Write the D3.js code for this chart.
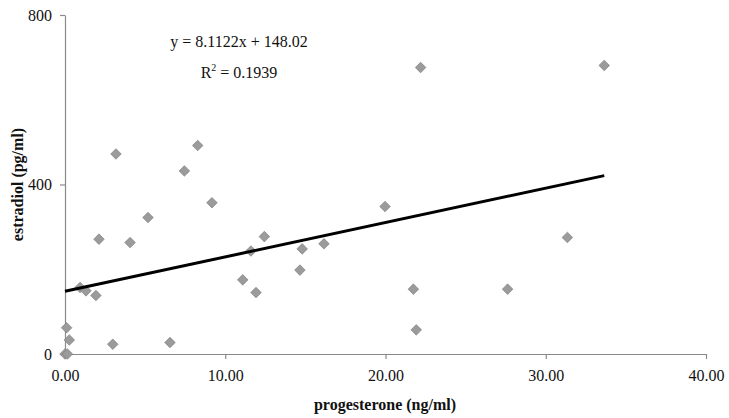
<!DOCTYPE html>
<html>
<head>
<meta charset="utf-8">
<script src="https://cdn.jsdelivr.net/npm/d3@7"></script>
<style>
  body { margin: 0; background: #fff; }
  text { font-family: "Liberation Serif", "Times New Roman", serif; fill: #111; }
</style>
</head>
<body>
<svg id="chart" width="729" height="418"></svg>
<script>
// Data
const progesterone = [0.00, 0.15, 0.10, 0.27, 2.98, 6.55, 0.94, 1.31, 1.93, 2.12, 4.06, 5.18, 9.17,
  3.18, 7.45, 8.28, 11.09, 11.60, 12.44, 14.80, 16.16, 14.66, 11.92, 19.97, 21.74, 21.92,
  22.19, 33.65, 31.35, 27.62];
const estradiol = [0, 0, 62, 33, 23, 27, 157, 149, 138, 271, 263, 322, 357,
  472, 432, 492, 175, 243, 277, 248, 260, 198, 145, 348, 153, 57,
  676, 681, 275, 153];
const xTicks = [0, 10, 20, 30, 40];
const yTicks = [0, 400, 800];
const slope = 8.1122, intercept = 148.02;
const equationLabel = "y = 8.1122x + 148.02";
const r2Value = "0.1939";
const xTitle = "progesterone (ng/ml)";
const yTitle = "estradiol (pg/ml)";

const svg = d3.select("#chart");
const x = d3.scaleLinear().domain([0, 40]).range([65, 706]);
const y = d3.scaleLinear().domain([0, 800]).range([354, 15]);
const axisColor = "#8a8a8a";

// X axis
const xAxis = svg.append("g").attr("transform", `translate(0,${y(0)})`)
  .call(d3.axisBottom(x).tickValues(xTicks).tickFormat(d3.format(".2f")).tickSize(5).tickSizeOuter(0));
xAxis.select(".domain").attr("stroke", axisColor).attr("stroke-width", 1.2);
xAxis.selectAll(".tick line").attr("stroke", axisColor).attr("stroke-width", 1.2);
xAxis.selectAll(".tick text").attr("font-size", 16).attr("dy", "1.2em")
  .style("font-family", "'Liberation Serif', serif").attr("fill", "#111");

// Y axis
const yAxis = svg.append("g").attr("transform", `translate(${x(0)},0)`)
  .call(d3.axisLeft(y).tickValues(yTicks).tickFormat(d3.format("d")).tickSize(5).tickSizeOuter(0));
yAxis.select(".domain").attr("stroke", axisColor).attr("stroke-width", 1.2);
yAxis.selectAll(".tick line").attr("stroke", axisColor).attr("stroke-width", 1.2);
yAxis.selectAll(".tick text").attr("font-size", 16).attr("x", -13)
  .style("font-family", "'Liberation Serif', serif").attr("fill", "#111");

// Points (diamonds)
const diamond = d3.symbol().type(d3.symbolSquare).size(56);
svg.append("g").selectAll("path")
  .data(progesterone.map((p, i) => [p, estradiol[i]]))
  .join("path")
  .attr("d", diamond)
  .attr("transform", d => `translate(${x(d[0])},${y(d[1])}) rotate(45)`)
  .attr("fill", "#9b9b9b")
  .attr("stroke", "#7a7a7a")
  .attr("stroke-width", 0.6);

// Trend line
const xMax = d3.max(progesterone);
svg.append("line")
  .attr("x1", x(0)).attr("y1", y(intercept))
  .attr("x2", x(xMax)).attr("y2", y(intercept + slope * xMax))
  .attr("stroke", "#000").attr("stroke-width", 3);

// Equation
svg.append("text").attr("x", 239).attr("y", 47).attr("text-anchor", "middle")
  .attr("font-size", 16).text(equationLabel);
const r2 = svg.append("text").attr("x", 239).attr("y", 78).attr("text-anchor", "middle")
  .attr("font-size", 16);
r2.append("tspan").text("R");
r2.append("tspan").attr("font-size", 10).attr("dy", -7).text("2");
r2.append("tspan").attr("dy", 7).text(" = " + r2Value);

// Axis titles
svg.append("text").attr("x", 385).attr("y", 410).attr("text-anchor", "middle")
  .attr("font-size", 16).attr("font-weight", "bold").text(xTitle);
svg.append("text").attr("transform", `translate(23,${y(400)}) rotate(-90)`)
  .attr("text-anchor", "middle").attr("font-size", 16).attr("font-weight", "bold").text(yTitle);
</script>
</body>
</html>
